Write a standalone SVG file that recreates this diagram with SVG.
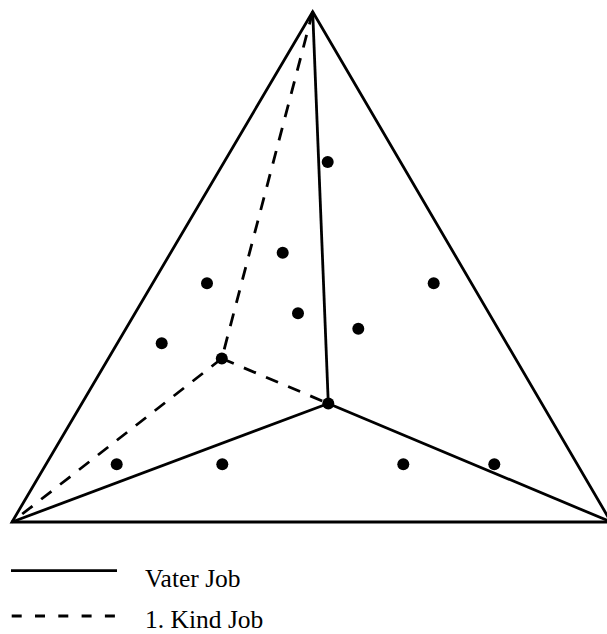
<svg xmlns="http://www.w3.org/2000/svg" width="607" height="634" viewBox="0 0 607 634">
<style>
.s{fill:none;stroke:#000;stroke-width:2.8;stroke-linejoin:miter}
.d{fill:none;stroke:#000;stroke-width:2.8;stroke-dasharray:13 11}
.ld{fill:none;stroke:#000;stroke-width:2.8;stroke-dasharray:10 13.3}
.p{fill:#000}
.t{font-family:"Liberation Serif","Times New Roman",serif;font-size:25.5px;fill:#000}
</style>
<rect width="607" height="634" fill="#fff"/>
<g id="connectors">
<polygon class="s" points="312.7,11.7 12,522 611,522"/>
<line class="s" x1="312.7" y1="11.7" x2="328.3" y2="403.5"/>
<line class="s" x1="328.3" y1="403.5" x2="12" y2="522"/>
<line class="s" x1="328.3" y1="403.5" x2="611" y2="522"/>
<line class="d" x1="312.7" y1="11.7" x2="221.8" y2="358.5"/>
<line class="d" x1="221.8" y1="358.5" x2="12" y2="522"/>
<line class="d" x1="221.8" y1="358.5" x2="328.3" y2="403.5"/>
</g>
<g id="points">
<circle class="p" cx="327.7" cy="162" r="6"/>
<circle class="p" cx="282.7" cy="252.7" r="6"/>
<circle class="p" cx="207" cy="283.3" r="6"/>
<circle class="p" cx="433.7" cy="283.3" r="6"/>
<circle class="p" cx="298" cy="313.3" r="6"/>
<circle class="p" cx="358.3" cy="328.7" r="6"/>
<circle class="p" cx="161.7" cy="343.3" r="6"/>
<circle class="p" cx="221.8" cy="358.5" r="6"/>
<circle class="p" cx="328.3" cy="403.5" r="6"/>
<circle class="p" cx="116.7" cy="464.3" r="6"/>
<circle class="p" cx="222.3" cy="464.3" r="6"/>
<circle class="p" cx="403.3" cy="464.3" r="6"/>
<circle class="p" cx="494.3" cy="464.3" r="6"/>
</g>
<g id="legend">
<line class="s" x1="11" y1="570.7" x2="117" y2="570.7"/>
<text class="t" x="145" y="586.5">Vater Job</text>
<line class="ld" x1="11.7" y1="616" x2="117" y2="616"/>
<text class="t" x="145" y="628">1. Kind Job</text>
</g>
</svg>
